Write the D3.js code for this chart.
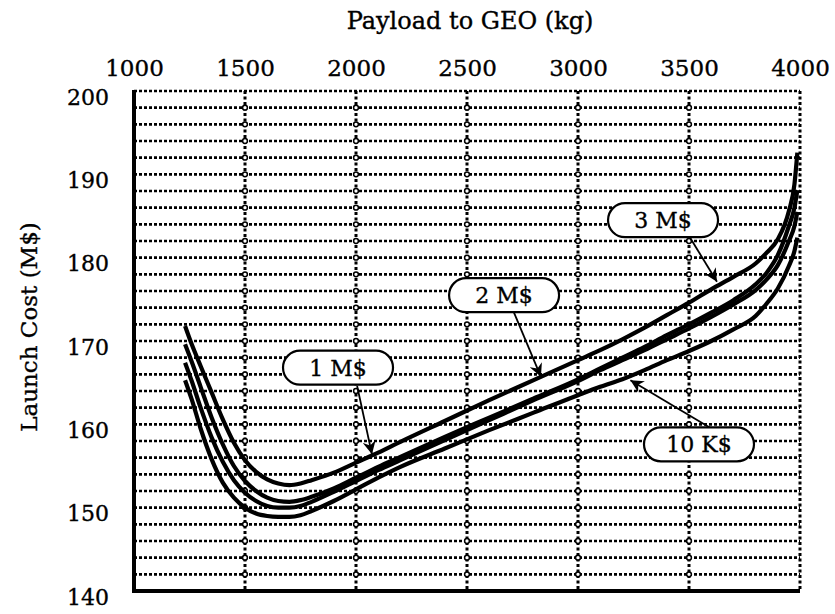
<!DOCTYPE html>
<html>
<head>
<meta charset="utf-8">
<script src="https://cdn.jsdelivr.net/npm/d3@7"></script>
<style>
  body { margin: 0; background: #fff; }
  text { font-family: "DejaVu Serif", serif; fill: #000; stroke: #000; stroke-width: 0.35px; }
</style>
</head>
<body>
<div id="chart"></div>
<script>
const FRAME_WIDTH = 835;
const FRAME_HEIGHT = 614;
const MARGINS = {left: 134, right: 35, top: 91, bottom: 23};

const VIS_WIDTH = FRAME_WIDTH - MARGINS.left - MARGINS.right;
const VIS_HEIGHT = FRAME_HEIGHT - MARGINS.top - MARGINS.bottom;

// payload (kg) sample points shared by every curve
const PAYLOAD = [1230, 1260, 1300, 1350, 1400, 1450, 1500, 1550, 1600, 1650,
                 1700, 1750, 1800, 1900, 2000, 2100, 2200, 2400, 2600, 2800,
                 3000, 3100, 3200, 3300, 3400, 3500, 3600, 3700, 3800, 3850,
                 3900, 3950, 3975, 3988];

// launch cost (M$) per curve
const COST_3M = [171.8, 169.6, 167.0, 163.8, 160.6, 157.8, 155.7, 154.3, 153.4, 152.9,
                 152.7, 152.9, 153.3, 154.2, 155.4, 156.6, 157.9, 160.4, 162.9, 165.3,
                 167.7, 168.9, 170.2, 171.6, 173.1, 174.6, 176.2, 177.7, 179.3, 180.6,
                 182.2, 185.6, 188.8, 192.6];
const COST_2M = [169.6, 167.5, 164.5, 160.8, 157.6, 155.0, 153.2, 152.0, 151.2, 150.8,
                 150.7, 150.9, 151.3, 152.3, 153.6, 154.9, 156.1, 158.5, 160.8, 163.1,
                 165.4, 166.7, 168.0, 169.3, 170.7, 172.0, 173.4, 174.9, 176.8, 178.2,
                 180.3, 183.8, 186.0, 188.1];
const COST_1M = [167.4, 165.2, 162.0, 158.4, 155.5, 153.3, 151.8, 150.8, 150.2, 150.0,
                 150.0, 150.2, 150.7, 151.9, 153.2, 154.5, 155.7, 158.1, 160.5, 162.9,
                 165.2, 166.5, 167.7, 168.9, 170.2, 171.5, 172.9, 174.4, 176.1, 177.4,
                 179.1, 182.0, 183.8, 185.5];
const COST_10K = [165.3, 163.0, 159.5, 155.8, 153.0, 151.2, 150.0, 149.3, 149.0, 148.9,
                  148.9, 149.1, 149.6, 150.8, 152.2, 153.6, 154.9, 157.1, 159.3, 161.4,
                  163.5, 164.5, 165.4, 166.5, 167.7, 168.8, 170.0, 171.4, 173.0, 174.5,
                  176.3, 179.0, 180.8, 182.4];

const SERIES = [COST_3M, COST_2M, COST_1M, COST_10K];

const X_TICKS = [1000, 1500, 2000, 2500, 3000, 3500, 4000];
const Y_TICKS = [140, 150, 160, 170, 180, 190, 200];

// callouts: label, box centre, arrow start, arrow tip (data units)
const LABELS = ["1 M$", "2 M$", "3 M$", "10 K$"];
const LABEL_AT = [[1919, 166.8], [2667, 175.5], [3383, 184.5], [3545, 157.6]];
const ARROW_FROM = [[2005, 164.6], [2707, 173.7], [3505, 182.4], [3595, 159.6]];
const ARROW_TO = [[2072, 156.4], [2833, 165.7], [3626, 177.1], [3236, 165.3]];

const FRAME = d3.select("#chart")
                .append("svg")
                  .attr("width", FRAME_WIDTH)
                  .attr("height", FRAME_HEIGHT);

const X_SCALE = d3.scaleLinear()
                  .domain([1000, 4000])
                  .range([MARGINS.left, MARGINS.left + VIS_WIDTH]);

const Y_SCALE = d3.scaleLinear()
                  .domain([140, 200])
                  .range([MARGINS.top + VIS_HEIGHT, MARGINS.top]);

// horizontal dotted grid every 2 M$
const H_GRID = d3.range(142, 201, 2);
FRAME.append("g")
  .selectAll("line")
  .data(H_GRID)
  .enter()
  .append("line")
    .attr("x1", X_SCALE(1000))
    .attr("x2", X_SCALE(4000))
    .attr("y1", (d) => { return Y_SCALE(d); })
    .attr("y2", (d) => { return Y_SCALE(d); })
    .attr("stroke", "#000")
    .attr("stroke-width", 2.6)
    .attr("stroke-dasharray", "3,2");

// vertical dotted grid
FRAME.append("g")
  .selectAll("line")
  .data(X_TICKS.slice(1))
  .enter()
  .append("line")
    .attr("x1", (d) => { return X_SCALE(d); })
    .attr("x2", (d) => { return X_SCALE(d); })
    .attr("y1", Y_SCALE(200))
    .attr("y2", Y_SCALE(140))
    .attr("stroke", "#000")
    .attr("stroke-width", 3)
    .attr("stroke-dasharray", "3,2.5");

// little rings where the dotted lines cross
const CROSS = [];
X_TICKS.slice(1, 6).forEach((x) => {
  H_GRID.slice(0, -1).forEach((y) => { CROSS.push([x, y]); });
});
FRAME.append("g")
  .selectAll("circle")
  .data(CROSS)
  .enter()
  .append("circle")
    .attr("cx", (d) => { return X_SCALE(d[0]); })
    .attr("cy", (d) => { return Y_SCALE(d[1]); })
    .attr("r", 2.4)
    .attr("fill", "#fff")
    .attr("stroke", "#000")
    .attr("stroke-width", 1.5);

// solid left and bottom axes
FRAME.append("line")
  .attr("x1", X_SCALE(1000)).attr("x2", X_SCALE(1000))
  .attr("y1", Y_SCALE(200) - 1).attr("y2", Y_SCALE(140) + 2)
  .attr("stroke", "#000").attr("stroke-width", 4);
FRAME.append("line")
  .attr("x1", X_SCALE(1000) - 2).attr("x2", X_SCALE(4000))
  .attr("y1", Y_SCALE(140)).attr("y2", Y_SCALE(140))
  .attr("stroke", "#000").attr("stroke-width", 4);

// top axis labels
const TOP_AXIS = FRAME.append("g")
  .attr("transform", "translate(0," + (MARGINS.top - 15) + ")")
  .call(d3.axisTop(X_SCALE).tickValues(X_TICKS).tickSize(0).tickPadding(0)
          .tickFormat(d3.format("d")));
TOP_AXIS.select(".domain").remove();
TOP_AXIS.selectAll("text")
  .attr("font-size", "23px")
  .attr("font-family", "DejaVu Serif")
  .attr("dy", 0);

// left axis labels
const LEFT_AXIS = FRAME.append("g")
  .attr("transform", "translate(" + (MARGINS.left - 25) + ",0)")
  .call(d3.axisLeft(Y_SCALE).tickValues(Y_TICKS).tickSize(0).tickPadding(0));
LEFT_AXIS.select(".domain").remove();
LEFT_AXIS.selectAll("text")
  .attr("font-size", "22px")
  .attr("font-family", "DejaVu Serif")
  .attr("dy", 13);

// axis titles
FRAME.append("text")
  .attr("x", 470)
  .attr("y", 29)
  .attr("text-anchor", "middle")
  .attr("font-size", "24px")
  .text("Payload to GEO (kg)");

FRAME.append("text")
  .attr("transform", "translate(37," + 327 + ") rotate(-90)")
  .attr("text-anchor", "middle")
  .attr("font-size", "23px")
  .text("Launch Cost (M$)");

// curves
const LINE = d3.line()
  .x((d, i) => { return X_SCALE(PAYLOAD[i]); })
  .y((d) => { return Y_SCALE(d); })
  .curve(d3.curveMonotoneX);

FRAME.append("g")
  .selectAll("path")
  .data(SERIES)
  .enter()
  .append("path")
    .attr("d", (d) => { return LINE(d); })
    .attr("fill", "none")
    .attr("stroke", "#000")
    .attr("stroke-width", 4.2)
    .attr("stroke-linejoin", "round");

// arrows
FRAME.append("defs").append("marker")
  .attr("id", "head")
  .attr("viewBox", "0 0 10 10")
  .attr("refX", 10).attr("refY", 5)
  .attr("markerWidth", 15).attr("markerHeight", 13)
  .attr("markerUnits", "userSpaceOnUse")
  .attr("orient", "auto")
  .append("path")
    .attr("d", "M0,0 L10,5 L0,10 L3,5 Z")
    .attr("fill", "#000");

FRAME.append("g")
  .selectAll("line")
  .data(LABELS)
  .enter()
  .append("line")
    .attr("x1", (d, i) => { return X_SCALE(ARROW_FROM[i][0]); })
    .attr("y1", (d, i) => { return Y_SCALE(ARROW_FROM[i][1]); })
    .attr("x2", (d, i) => { return X_SCALE(ARROW_TO[i][0]); })
    .attr("y2", (d, i) => { return Y_SCALE(ARROW_TO[i][1]); })
    .attr("stroke", "#000")
    .attr("stroke-width", 1.8)
    .attr("marker-end", "url(#head)");

// callout boxes
const BOX_W = 110;
const BOX_H = 34;
const BOXES = FRAME.append("g")
  .selectAll("g")
  .data(LABELS)
  .enter()
  .append("g")
    .attr("transform", (d, i) => {
      return "translate(" + X_SCALE(LABEL_AT[i][0]) + "," + Y_SCALE(LABEL_AT[i][1]) + ")";
    });

BOXES.append("rect")
  .attr("x", -BOX_W / 2)
  .attr("y", -BOX_H / 2)
  .attr("width", BOX_W)
  .attr("height", BOX_H)
  .attr("rx", 17)
  .attr("fill", "#fff")
  .attr("stroke", "#000")
  .attr("stroke-width", 2.2);

BOXES.append("text")
  .attr("text-anchor", "middle")
  .attr("dy", 8)
  .attr("font-size", "22px")
  .text((d) => { return d; });
</script>
</body>
</html>
